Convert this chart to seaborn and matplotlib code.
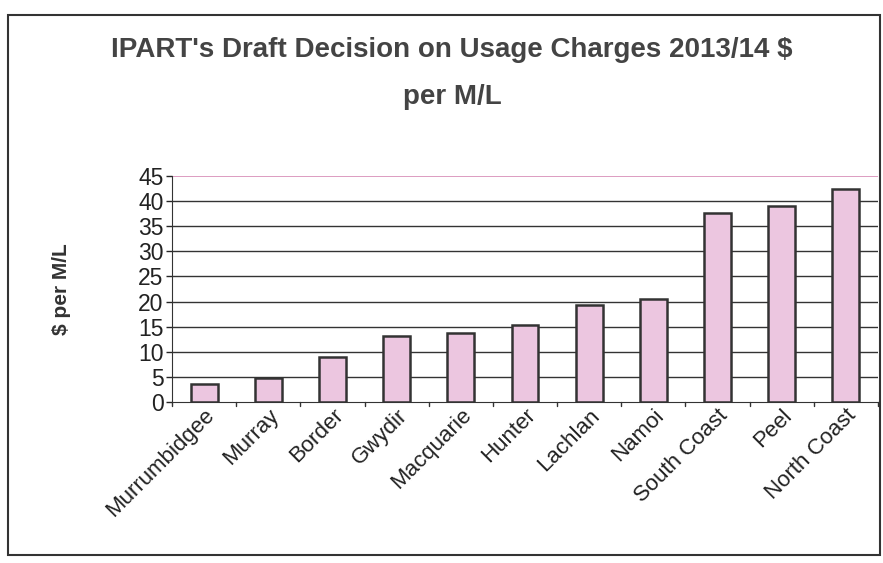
import matplotlib
matplotlib.use("Agg")
import matplotlib.pyplot as plt
import seaborn as sns
import pandas as pd
from matplotlib.patches import Rectangle

regions = ["Murrumbidgee", "Murray", "Border", "Gwydir", "Macquarie", "Hunter",
           "Lachlan", "Namoi", "South Coast", "Peel", "North Coast"]
charges = [3.6, 4.8, 9.0, 13.2, 13.8, 15.4, 19.4, 20.6, 37.7, 39.1, 42.5]
yticks = [0, 5, 10, 15, 20, 25, 30, 35, 40, 45]

df = pd.DataFrame({"region": regions, "charge": charges})

sns.set_style("white")
plt.rcParams['font.family'] = ['Liberation Sans', 'DejaVu Sans']

fig = plt.figure(figsize=(8.83, 5.63), dpi=100)
ax = fig.add_axes([172/883, 1-402/563, (878-172)/883, (402-176)/563])

sns.barplot(data=df, x="region", y="charge", ax=ax, color="#ecc6e0",
            edgecolor="#333333", linewidth=1.8, width=0.42, saturation=1)

ax.set_ylim(0, 45)
ax.set_yticks(yticks)
ax.set_yticklabels([str(t) for t in yticks], fontsize=16.5, color="#222222")
for t in yticks[1:-1]:
    ax.axhline(t, color="#333333", lw=1.0, zorder=0)
ax.axhline(45, color="#d78bb6", lw=1.2, zorder=0)
ax.set_xlim(-0.5, len(regions) - 0.5)
for s in ["top", "right"]:
    ax.spines[s].set_visible(False)
ax.spines["left"].set_color("#333333")
ax.spines["bottom"].set_color("#333333")
ax.tick_params(axis="y", length=4, width=1, pad=2, left=True)
ax.tick_params(axis="x", length=0, pad=2)
ax.set_xticks(range(len(regions)))
ax.set_xticklabels(regions, rotation=45, ha="right", rotation_mode="anchor",
                   fontsize=16, color="#222222")
ax.set_xlabel("")
ax.set_ylabel("$ per M/L", fontsize=15, fontweight="bold", labelpad=48, color="#333333")
for i in range(len(regions) + 1):
    ax.plot([i - 0.5, i - 0.5], [0, -0.8], color="#333333", lw=1, clip_on=False)

fig.text(0.512, 1 - 50/563, "IPART's Draft Decision on Usage Charges 2013/14 $",
         ha="center", va="center", fontsize=20, fontweight="bold", color="#444444")
fig.text(0.512, 1 - 97/563, "per M/L", ha="center", va="center",
         fontsize=20, fontweight="bold", color="#444444")

fig.patches.append(Rectangle((8/883, 1-555/563), (880-8)/883, (555-15)/563,
                             transform=fig.transFigure, fill=False,
                             edgecolor="#333333", lw=1.5))

fig.savefig("out.png", dpi=100)
